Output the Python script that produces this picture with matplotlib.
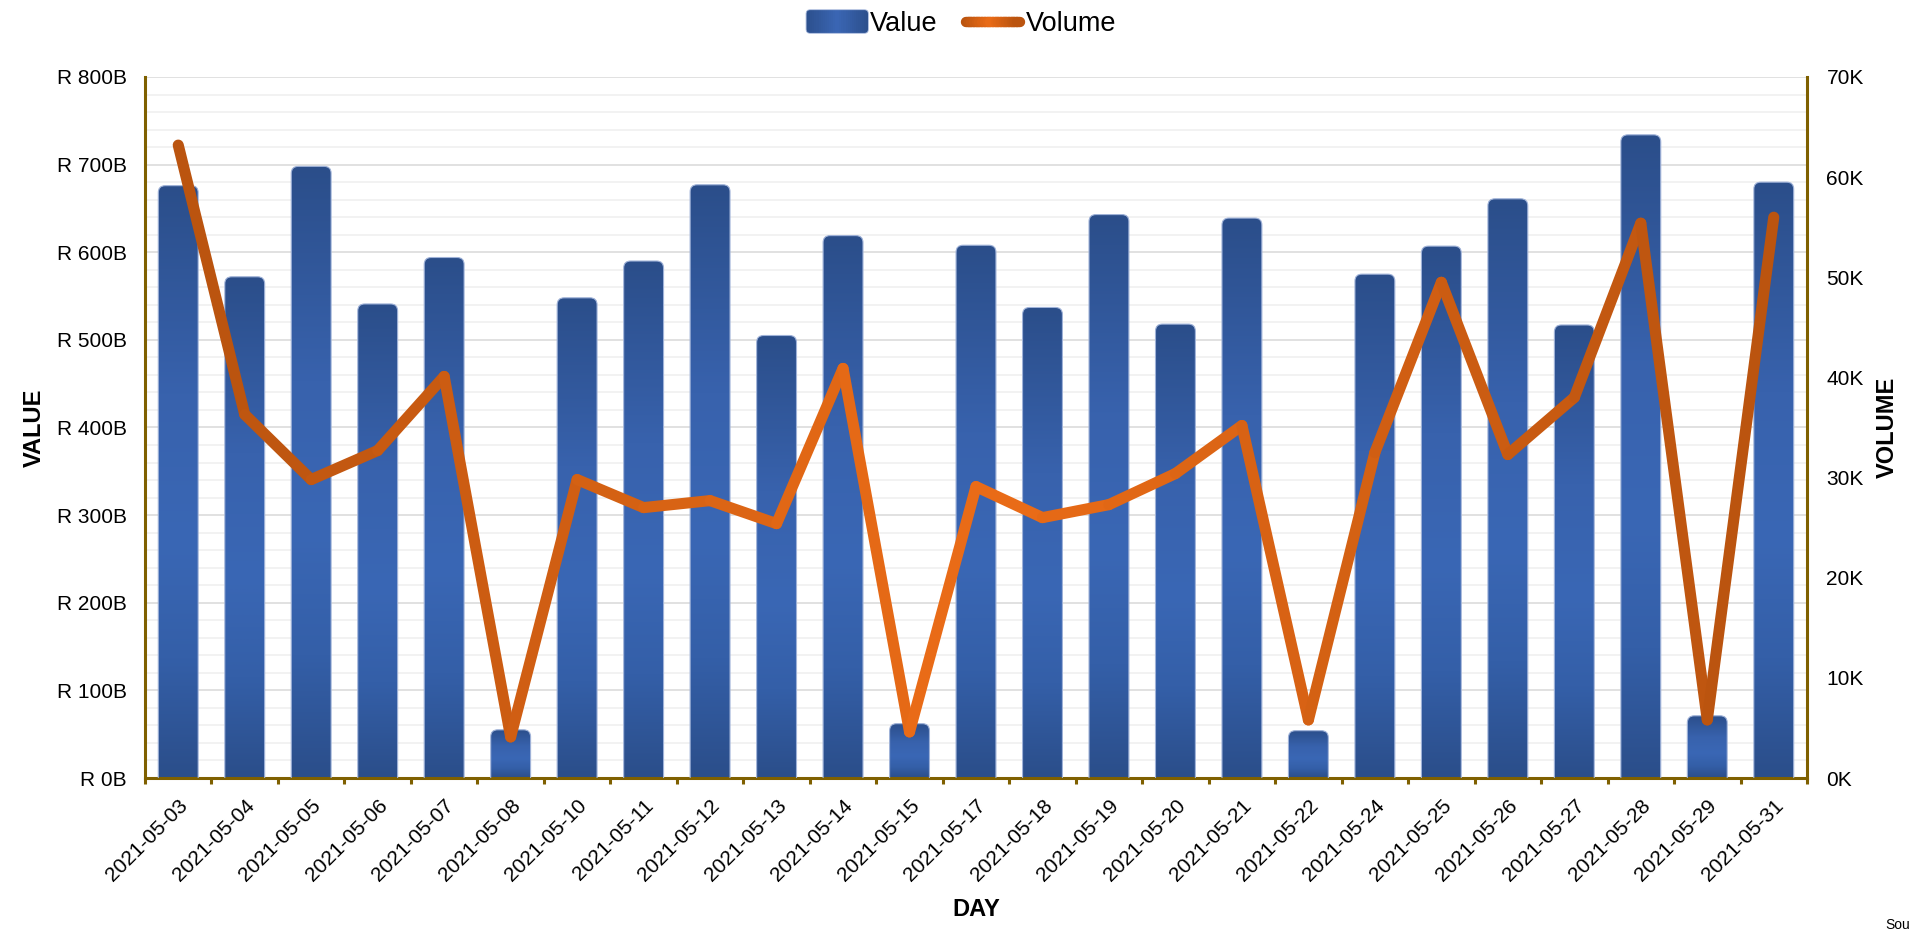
import numpy as np
import matplotlib
matplotlib.use('Agg')
import matplotlib.pyplot as plt
from matplotlib.patches import FancyBboxPatch, Rectangle
from matplotlib.lines import Line2D
from matplotlib.collections import LineCollection
from matplotlib.colors import LinearSegmentedColormap
from matplotlib.legend_handler import HandlerBase
from matplotlib.ticker import FuncFormatter, MultipleLocator

# ---------------- data ----------------
days = ['2021-05-03', '2021-05-04', '2021-05-05', '2021-05-06', '2021-05-07',
        '2021-05-08', '2021-05-10', '2021-05-11', '2021-05-12', '2021-05-13',
        '2021-05-14', '2021-05-15', '2021-05-17', '2021-05-18', '2021-05-19',
        '2021-05-20', '2021-05-21', '2021-05-22', '2021-05-24', '2021-05-25',
        '2021-05-26', '2021-05-27', '2021-05-28', '2021-05-29', '2021-05-31']
value_bn = [676, 572, 698, 541, 594, 55, 548, 590, 677, 505,
            619, 62, 608, 537, 643, 518, 639, 54, 575, 607,
            661, 517, 734, 71, 680]
volume = [63200, 36300, 29800, 32700, 40100, 4100, 29800, 27000, 27700, 25400,
          40900, 4600, 29100, 26000, 27300, 30400, 35200, 5800, 32500, 49500,
          32300, 38000, 55400, 5800, 56000]
value_ticks = [0, 100, 200, 300, 400, 500, 600, 700, 800]
volume_ticks = [0, 10000, 20000, 30000, 40000, 50000, 60000, 70000]

plt.rcParams['font.family'] = ['Liberation Sans', 'DejaVu Sans']

W, H = 1909, 930
fig = plt.figure(figsize=(W / 100, H / 100), dpi=100)
L, R, T, B = 145, 1807, 77, 778
ax = fig.add_axes([L / W, 1 - B / H, (R - L) / W, (B - T) / H])
ax2 = ax.twinx()

GOLD = '#7F6000'
bar_cmap = LinearSegmentedColormap.from_list(
    'bar', [(0, '#2B4E8A'), (0.35, '#3862AD'), (0.6, '#3A67B5'),
            (0.8, '#345FA8'), (1, '#2B4E8A')])
bar_cmap_h = LinearSegmentedColormap.from_list(
    'barh', ['#2C4F8C', '#3A66B4', '#2C4F8C'])
vol_cmap = LinearSegmentedColormap.from_list(
    'vol', ['#B9530F', '#EB6C17', '#B9530F'])

# ---------------- bars ----------------
x = np.arange(len(days))
bar_w = 0.6
bars = ax.bar(x, value_bn, width=bar_w, color='none', edgecolor='none', zorder=2)
ax.set_xlim(-0.5, len(days) - 0.5)
ax.set_ylim(value_ticks[0], value_ticks[-1])

ux = ax.bbox.width / (len(days))          # px per x unit
uy = ax.bbox.height / (value_ticks[-1])   # px per y unit
r_px = 7
r_x = r_px / ux
asp = ux / uy
r_y = r_x * asp
grad = np.linspace(0, 1, 256).reshape(-1, 1)
for rect in bars:
    x0, w, h = rect.get_x(), rect.get_width(), rect.get_height()
    patch = FancyBboxPatch((x0, -r_y), w, h + r_y,
                           boxstyle=f'round,pad=0,rounding_size={r_x}',
                           mutation_aspect=asp, facecolor='none',
                           edgecolor='#9FB2D8', linewidth=0.8, zorder=3)
    ax.add_patch(patch)
    im = ax.imshow(grad, cmap=bar_cmap, extent=(x0, x0 + w, 0, h),
                   aspect='auto', interpolation='bicubic', origin='upper',
                   zorder=2.5)
    im.set_clip_path(patch)
ax.set_xlim(-0.5, len(days) - 0.5)
ax.set_ylim(value_ticks[0], value_ticks[-1])
ax.set_aspect('auto')

# ---------------- line ----------------
pts = np.column_stack([x, volume])
segs = np.stack([pts[:-1], pts[1:]], axis=1)
mid = ((x[:-1] + x[1:]) / 2) / (len(x) - 1)
lc = LineCollection(segs, colors=vol_cmap(mid), linewidths=8,
                    capstyle='round', joinstyle='round', zorder=4)
ax2.add_collection(lc)
ax2.set_ylim(volume_ticks[0], volume_ticks[-1])
ax2.set_xlim(-0.5, len(days) - 0.5)

# ---------------- axes styling ----------------
ax.set_yticks(value_ticks)
ax.yaxis.set_minor_locator(MultipleLocator(20))
ax.yaxis.set_major_formatter(FuncFormatter(lambda v, p: f'R {v:.0f}B'))
ax.tick_params(axis='y', which='both', length=0, labelsize=15, pad=13)
ax.grid(axis='y', which='major', color='#D9D9D9', lw=1.1)
ax.grid(axis='y', which='minor', color='#EFEFEF', lw=1.1)
ax.set_axisbelow(True)

ax.set_xticks(x)
ax.set_xticklabels(days, rotation=45, ha='right', rotation_mode='anchor', fontsize=15)
ax.set_xticks(np.arange(-0.5, len(days)), minor=True)
ax.tick_params(axis='x', which='major', length=0, pad=13)
ax.tick_params(axis='x', which='minor', length=4.5, width=2.2, color=GOLD)

ax2.set_yticks(volume_ticks)
ax2.yaxis.set_major_formatter(FuncFormatter(lambda v, p: f'{v / 1000:.0f}K'))
ax2.tick_params(axis='y', length=0, labelsize=15, pad=14)

for a in (ax, ax2):
    for s in a.spines.values():
        s.set_visible(False)
for s in ('left', 'bottom'):
    ax.spines[s].set_visible(True)
    ax.spines[s].set_color(GOLD)
    ax.spines[s].set_linewidth(2.2)
ax2.spines['right'].set_visible(True)
ax2.spines['right'].set_color(GOLD)
ax2.spines['right'].set_linewidth(2.2)

ax.set_xlabel('DAY', fontsize=17, fontweight='bold', va='center')
ax.xaxis.set_label_coords(0.5, -0.187)
ax.set_ylabel('VALUE', fontsize=17, fontweight='bold', va='center')
ax.yaxis.set_label_coords(-0.0668, 0.5)
ax2.set_ylabel('VOLUME', fontsize=17, fontweight='bold', va='center')
ax2.yaxis.set_label_coords(1.0481, 0.5)


# ---------------- legend ----------------
class GradBarHandler(HandlerBase):
    def create_artists(self, legend, orig_handle, xdescent, ydescent,
                       width, height, fontsize, trans):
        hh = 17.0
        y0 = -ydescent + height / 2 - hh / 2
        x0 = -xdescent
        box = FancyBboxPatch((x0, y0), width, hh,
                             boxstyle='round,pad=0,rounding_size=3',
                             facecolor='none', edgecolor='#9FB2D8', lw=0.6,
                             transform=trans)
        arts = []
        n = 30
        for i in range(n):
            r = Rectangle((x0 + i * width / n, y0), width / n * 1.05, hh,
                          facecolor=bar_cmap_h((i + 0.5) / n), edgecolor='none',
                          transform=trans)
            r.set_clip_path(box)
            arts.append(r)
        arts.append(box)
        return arts


class GradLineHandler(HandlerBase):
    def create_artists(self, legend, orig_handle, xdescent, ydescent,
                       width, height, fontsize, trans):
        y = -ydescent + height / 2
        n = 20
        xs = np.linspace(-xdescent + 3, -xdescent + width - 3, n + 1)
        s = [[(xs[i], y), (xs[i + 1], y)] for i in range(n)]
        c = vol_cmap((np.arange(n) + 0.5) / n)
        lcl = LineCollection(s, colors=c, linewidths=7.5, capstyle='round',
                             transform=trans)
        return [lcl]


h_bar = Rectangle((0, 0), 1, 1)
h_line = Line2D([0], [0])
fig.legend([h_bar, h_line], ['Value', 'Volume'],
           handler_map={Rectangle: GradBarHandler(), Line2D: GradLineHandler()},
           loc='center', bbox_to_anchor=(961 / W, 1 - 24 / H), ncol=2,
           frameon=False, fontsize=19.5, handlelength=2.3, handletextpad=0.05,
           columnspacing=0.9)

fig.text(1885 / W, 1 - 925 / H, 'Source:', fontsize=10, ha='left', va='center')

fig.savefig('out.png', dpi=100)
